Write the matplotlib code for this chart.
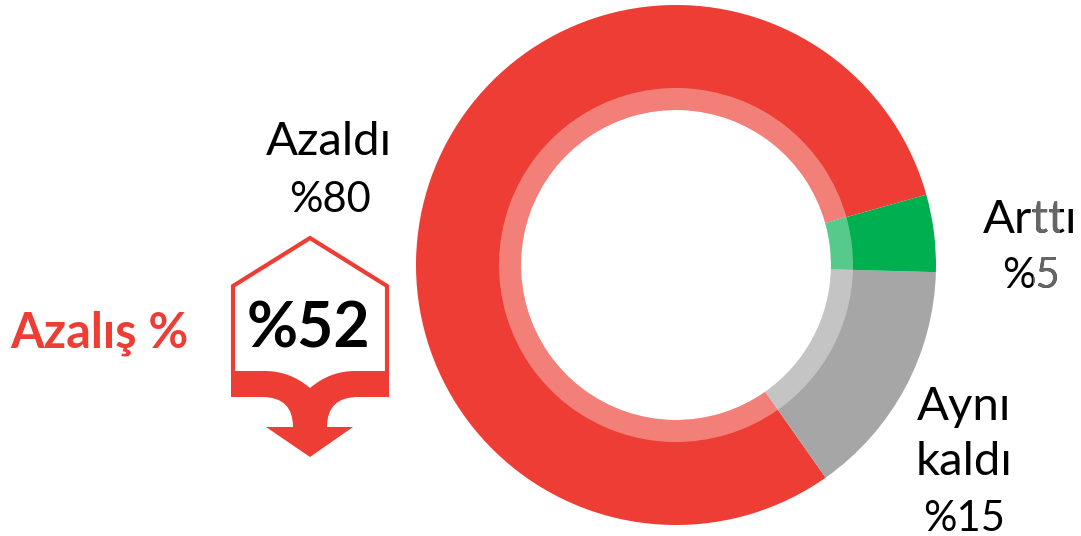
#!/usr/bin/env python3

import matplotlib
matplotlib.use("Agg")
import matplotlib.pyplot as plt
from matplotlib.patches import Polygon, PathPatch, Rectangle
from matplotlib.path import Path

# Data
categories = ["Azaldı", "Aynı\nkaldı", "Arttı"]
value_labels = ["%80", "%15", "%5"]
# slice sizes as measured from the ring, labels are rounded
values = [80.4, 14.8, 4.8]
colors = ["#EE3D35", "#A6A6A6", "#00B050"]
decrease_label = "Azalış %"
decrease_value = "%52"

W, H = 1081, 536
RED = "#EE3D35"

plt.rcParams["font.family"] = ["Lato", "DejaVu Sans"]

fig = plt.figure(figsize=(W / 100, H / 100), dpi=100)
ax = fig.add_axes([0, 0, 1, 1])


def py(y):
    # reference pixels are measured from the top
    return H - y


center = (676, py(265))
ax.pie(values, colors=colors, startangle=15.7, center=center, radius=260, frame=True,
       wedgeprops={"width": 105, "linewidth": 0})
# lighter inner ring
ax.pie(values, colors=["white"] * 3, startangle=15.7, center=center, radius=177, frame=True,
       wedgeprops={"width": 22, "linewidth": 0, "alpha": 0.34})

ax.set_xlim(0, W)
ax.set_ylim(0, H)
ax.set_aspect("auto")
ax.axis("off")

word_fs = 34
num_fs = 30


def label(x, y, s, fs, col="black", clip=None):
    t = ax.text(x, py(y), s, fontsize=fs, ha="center", va="baseline", color=col)
    if clip:
        t.set_clip_path(Rectangle((clip[0], 0), clip[1] - clip[0], H, transform=ax.transData))
        t.set_clip_on(True)
    return t


label(329, 155, categories[0], word_fs)
label(330, 212, value_labels[0], num_fs)

aynı, kaldı = categories[1].split("\n")
label(964, 420, aynı, word_fs)
label(964, 475, kaldı, word_fs)
label(964, 531, value_labels[1], num_fs)

# Arttı / %5 has a grey patch over part of the letters
label(1030, 233, categories[2], word_fs)
label(1031, 288, value_labels[2], num_fs)
label(1030, 233, categories[2], word_fs, "#666666", (1033, 1060))
label(1031, 288, value_labels[2], num_fs, "#666666", (1033, 1060))

ax.text(99, py(347), decrease_label, fontsize=35, fontweight="bold", ha="center", va="baseline", color=RED)
ax.text(308, py(347), decrease_value, fontsize=45, fontweight="bold", ha="center", va="baseline", color="black")

# house outline
house = [(233, 374), (233, 286), (310, 238), (387, 286), (387, 374)]
ax.add_patch(Polygon([(x, py(y)) for x, y in house], closed=False, fill=False, edgecolor=RED,
                     linewidth=3, joinstyle="miter"))

# curved band and arrow
verts = [
    (231, 371), (265, 371),
    (290, 371), (310, 388),
    (330, 371), (355, 371),
    (389, 371), (389, 397), (358, 397),
    (327, 397), (327, 427),
    (353, 427), (310, 457), (266, 427), (293, 427),
    (293, 397), (262, 397),
    (231, 397), (231, 371),
]
codes = [
    Path.MOVETO, Path.LINETO,
    Path.CURVE3, Path.CURVE3,
    Path.CURVE3, Path.CURVE3,
    Path.LINETO, Path.LINETO, Path.LINETO,
    Path.CURVE3, Path.CURVE3,
    Path.LINETO, Path.LINETO, Path.LINETO, Path.LINETO,
    Path.CURVE3, Path.CURVE3,
    Path.LINETO, Path.CLOSEPOLY,
]
ax.add_patch(PathPatch(Path([(x, py(y)) for x, y in verts], codes), facecolor=RED, edgecolor="none"))

fig.savefig("out.png", dpi=100)
